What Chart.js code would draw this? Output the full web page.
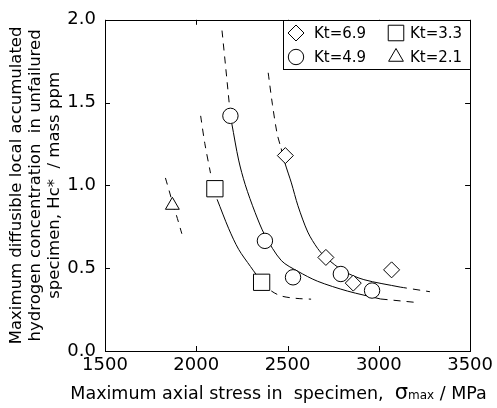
<!DOCTYPE html>
<html>
<head>
<meta charset="utf-8">
<script src="https://cdn.jsdelivr.net/npm/chart.js@4.4.0/dist/chart.umd.min.js"></script>
<style>
  html, body { margin: 0; padding: 0; background: #fff; }
  #wrap { width: 497px; height: 408px; }
</style>
</head>
<body>
<div id="wrap"><canvas id="chart"></canvas></div>
<script>
// ─── Data ────────────────────────────────────────────────────────
const xTicks = [1500, 2000, 2500, 3000, 3500];
const yTicks = [0.0, 0.5, 1.0, 1.5, 2.0];

// measured specimens, stress (MPa) vs Hc* (mass ppm)
const kt69X = [2488, 2710, 2860, 3070];
const kt69Y = [1.18, 0.565, 0.41, 0.49];
const kt49X = [2187, 2376, 2530, 2792, 2963];
const kt49Y = [1.42, 0.665, 0.445, 0.465, 0.365];
const kt33X = [2102, 2358];
const kt33Y = [0.98, 0.415];
const kt21X = [1869];
const kt21Y = [0.88];

// fitted curves
const c69UpX = [2394, 2417, 2443, 2465];
const c69UpY = [1.680, 1.490, 1.312, 1.223];
const c69X   = [2465, 2486, 2521, 2557, 2611, 2665, 2710, 2810, 2918, 3117];
const c69Y   = [1.223, 1.134, 1.015, 0.877, 0.718, 0.619, 0.564, 0.481, 0.431, 0.386];
const c69LoX = [3117, 3280];
const c69LoY = [0.386, 0.358];

const c49UpX = [2141, 2161, 2181];
const c49UpY = [1.935, 1.715, 1.490];
const c49X   = [2195, 2232, 2268, 2322, 2376, 2466, 2557, 2665, 2828, 3010];
const c49Y   = [1.371, 1.153, 1.005, 0.837, 0.699, 0.546, 0.481, 0.421, 0.362, 0.314];
const c49LoX = [3010, 3207];
const c49LoY = [0.314, 0.293];

const c33UpX = [2024, 2047, 2078];
const c33UpY = [1.420, 1.252, 1.074];
const c33X   = [2114, 2178, 2232, 2297, 2358];
const c33Y   = [0.916, 0.738, 0.614, 0.510, 0.417];
const c33LoX = [2358, 2412, 2466, 2546, 2629];
const c33LoY = [0.417, 0.362, 0.332, 0.318, 0.313];

const c21X = [1831, 1862, 1871, 1889, 1921];
const c21Y = [1.045, 0.926, 0.880, 0.827, 0.708];

const legendItems = [
  { label: "Kt=6.9", style: "rectRot",  radius: 8 },
  { label: "Kt=3.3", style: "rect",     radius: 11 },
  { label: "Kt=4.9", style: "circle",   radius: 7.7 },
  { label: "Kt=2.1", style: "triangle", radius: 8.5 },
];

// ─── Helpers ─────────────────────────────────────────────────────
const FONT = "'DejaVu Sans', sans-serif";
const pairs = (xs, ys) => xs.map((x, i) => ({ x, y: ys[i] }));

function marks(label, xs, ys, style, radius) {
  return {
    label, data: pairs(xs, ys), pointStyle: style, pointRadius: radius,
    pointBackgroundColor: "#fff", pointBorderColor: "#000", pointBorderWidth: 1,
    showLine: false,
  };
}

function curve(xs, ys, dashed) {
  return {
    data: pairs(xs, ys), showLine: true, pointRadius: 0,
    borderColor: "#000", borderWidth: 1, borderDash: dashed ? [7, 6] : [],
    tension: 0.3, fill: false,
  };
}

function drawMark(ctx, style, r, x, y) {
  ctx.save();
  ctx.fillStyle = "#fff";
  ctx.strokeStyle = "#000";
  ctx.lineWidth = 1;
  if (Chart.helpers && Chart.helpers.drawPoint) {
    Chart.helpers.drawPoint(ctx, { pointStyle: style, radius: r, borderWidth: 1 }, x, y);
  } else {
    ctx.beginPath();
    ctx.arc(x, y, r, 0, Math.PI * 2);
    ctx.fill(); ctx.stroke();
  }
  ctx.restore();
}

// ─── Plugins: box frame with inward ticks, legend, x title ──────
const framePlugin = {
  id: "frame",
  afterDatasetsDraw(chart) {
    const { ctx, chartArea: a, scales } = chart;
    ctx.save();
    ctx.strokeStyle = "#000";
    ctx.lineWidth = 1;
    ctx.strokeRect(Math.round(a.left) + 0.5, Math.round(a.top) + 0.5,
                   Math.round(a.right - a.left), Math.round(a.bottom - a.top));
    ctx.beginPath();
    xTicks.forEach(v => {
      const px = Math.round(scales.x.getPixelForValue(v)) + 0.5;
      ctx.moveTo(px, a.bottom); ctx.lineTo(px, a.bottom - 5);
      ctx.moveTo(px, a.top);    ctx.lineTo(px, a.top + 5);
    });
    yTicks.forEach(v => {
      const py = Math.round(scales.y.getPixelForValue(v)) + 0.5;
      ctx.moveTo(a.left, py);  ctx.lineTo(a.left + 5, py);
      ctx.moveTo(a.right, py); ctx.lineTo(a.right - 5, py);
    });
    ctx.stroke();
    ctx.restore();
  },
};

const legendPlugin = {
  id: "boxLegend",
  afterDraw(chart) {
    const { ctx, chartArea: a } = chart;
    const left = Math.round(a.right) - 187, top = Math.round(a.top), h = 49;
    ctx.save();
    ctx.fillStyle = "#fff";
    ctx.fillRect(left, top, a.right - left, h);
    ctx.strokeStyle = "#000";
    ctx.lineWidth = 1;
    ctx.strokeRect(left + 0.5, top + 0.5, Math.round(a.right) - left, h);
    ctx.font = "15px " + FONT;
    ctx.fillStyle = "#000";
    ctx.textBaseline = "middle";
    legendItems.forEach((it, i) => {
      const col = i % 2, row = Math.floor(i / 2);
      const mx = left + 13 + col * 100;
      const my = top + 13 + row * 24;
      drawMark(ctx, it.style, it.radius, mx, my);
      ctx.fillText(it.label, mx + (col ? 14 : 18), my + 1);
    });
    ctx.restore();
  },
};

const xTitlePlugin = {
  id: "xTitle",
  afterDraw(chart) {
    const { ctx, chartArea: a } = chart;
    const parts = [
      ["Maximum axial stress in  specimen,  ", "17.5px " + FONT],
      ["σ", "21px " + FONT],
      ["max", "12px " + FONT],
      [" / MPa", "17.5px " + FONT],
    ];
    ctx.save();
    let total = 0;
    parts.forEach(p => { ctx.font = p[1]; total += ctx.measureText(p[0]).width; });
    let x = (a.left + a.right) / 2 - total / 2 - 9;
    ctx.fillStyle = "#000";
    ctx.textBaseline = "alphabetic";
    parts.forEach(p => {
      ctx.font = p[1];
      ctx.fillText(p[0], x, 399);
      x += ctx.measureText(p[0]).width;
    });
    ctx.restore();
  },
};

// ─── Chart ───────────────────────────────────────────────────────
new Chart(document.getElementById("chart"), {
  type: "scatter",
  data: {
    datasets: [
      marks("Kt=6.9", kt69X, kt69Y, "rectRot", 8),
      marks("Kt=4.9", kt49X, kt49Y, "circle", 7.7),
      marks("Kt=3.3", kt33X, kt33Y, "rect", 11.5),
      marks("Kt=2.1", kt21X, kt21Y, "triangle", 8),
      curve(c69UpX, c69UpY, true),
      curve(c69X, c69Y, false),
      curve(c69LoX, c69LoY, true),
      curve(c49UpX, c49UpY, true),
      curve(c49X, c49Y, false),
      curve(c49LoX, c49LoY, true),
      curve(c33UpX, c33UpY, true),
      curve(c33X, c33Y, false),
      curve(c33LoX, c33LoY, true),
      curve(c21X, c21Y, true),
    ],
  },
  options: {
    responsive: true,
    maintainAspectRatio: false,
    animation: false,
    events: [],
    layout: { padding: { top: 14, right: 23, left: 0, bottom: 0 } },
    plugins: { legend: { display: false }, tooltip: { enabled: false } },
    scales: {
      x: {
        type: "linear",
        min: xTicks[0], max: xTicks[xTicks.length - 1],
        grid: { display: false, drawTicks: false },
        border: { display: false },
        ticks: {
          stepSize: 500, padding: 4, color: "#000", maxRotation: 0,
          font: { family: FONT, size: 18 },
          callback: v => String(v),
        },
        afterFit: s => { s.height = 57; },
      },
      y: {
        type: "linear",
        min: yTicks[0], max: yTicks[yTicks.length - 1],
        grid: { display: false, drawTicks: false },
        border: { display: false },
        ticks: {
          stepSize: 0.5, padding: 9, color: "#000",
          font: { family: FONT, size: 18 },
          callback: v => Number(v).toFixed(1),
        },
        title: {
          display: true,
          text: ["Maximum diffusible local accumulated",
                 "hydrogen concentration  in unfailured",
                 "specimen, Hc*  / mass ppm"],
          color: "#000",
          font: { family: FONT, size: 16.5, lineHeight: 1.15 },
          padding: { top: 7, bottom: 0 },
        },
        afterFit: s => { s.width = 105; },
      },
    },
  },
  plugins: [framePlugin, legendPlugin, xTitlePlugin],
});
</script>
</body>
</html>
